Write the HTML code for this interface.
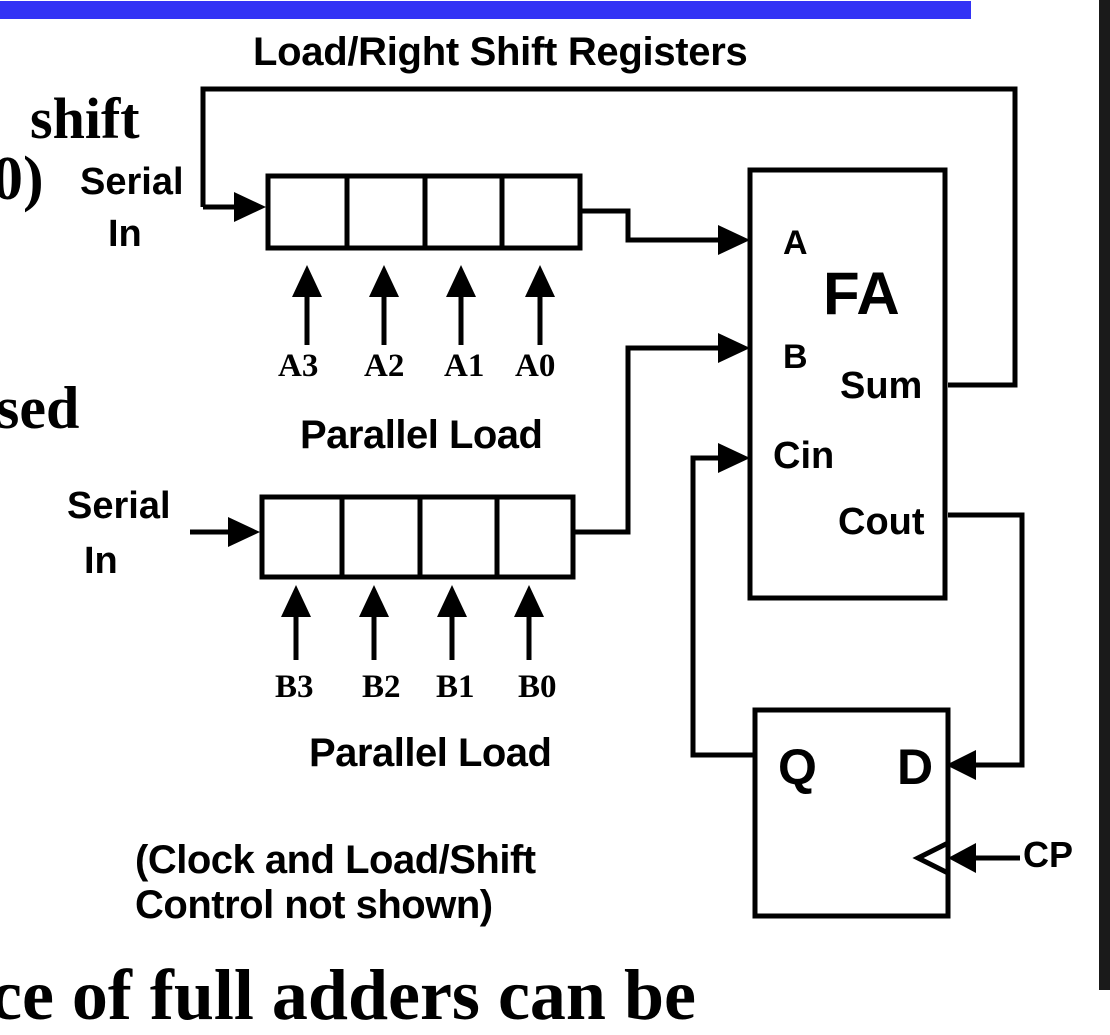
<!DOCTYPE html>
<html><head><style>
body{margin:0;width:1110px;height:990px;overflow:hidden;background:#fff;position:relative}
.s{position:absolute;font-family:"Liberation Sans",sans-serif;font-weight:bold;color:#000;white-space:nowrap;line-height:1}
.r{position:absolute;font-family:"Liberation Serif",serif;font-weight:bold;color:#000;white-space:nowrap;line-height:1}
</style></head><body>
<div style="position:absolute;left:0;top:1px;width:971px;height:18px;background:#3333f5"></div>
<div style="position:absolute;left:1099px;top:0;width:11px;height:990px;background:#1a1a1a"></div>
<svg width="1110" height="990" style="position:absolute;left:0;top:0">
<g stroke="#000" stroke-width="5" fill="none" stroke-linejoin="miter">
<polyline points="203,207 203,89 1015,89 1015,385 948,385"/>
<line x1="203" y1="207" x2="240" y2="207"/>
<rect x="268" y="176" width="312" height="72"/>
<line x1="347" y1="176" x2="347" y2="248"/><line x1="425" y1="176" x2="425" y2="248"/><line x1="502" y1="176" x2="502" y2="248"/>
<polyline points="580,211 628,211 628,240 725,240"/>
<rect x="750" y="170" width="195" height="428"/>
<rect x="262" y="497" width="311" height="80"/>
<line x1="342" y1="497" x2="342" y2="577"/><line x1="420" y1="497" x2="420" y2="577"/><line x1="497" y1="497" x2="497" y2="577"/>
<line x1="190" y1="532" x2="235" y2="532"/>
<polyline points="573,532 628,532 628,348 725,348"/>
<polyline points="755,755 693,755 693,458 725,458"/>
<polyline points="948,515 1022,515 1022,765 970,765"/>
<rect x="755" y="710" width="193" height="206"/>
<polyline points="948,843 918,858 948,873"/>
<line x1="1020" y1="858" x2="970" y2="858"/>
<line x1="307" y1="290" x2="307" y2="345"/><line x1="384" y1="290" x2="384" y2="345"/><line x1="461" y1="290" x2="461" y2="345"/><line x1="540" y1="290" x2="540" y2="345"/>
<line x1="296" y1="610" x2="296" y2="660"/><line x1="374" y1="610" x2="374" y2="660"/><line x1="452" y1="610" x2="452" y2="660"/><line x1="529" y1="610" x2="529" y2="660"/>
</g>
<g fill="#000">
<polygon points="234,192 266,207 234,222"/>
<polygon points="228,517 260,532 228,547"/>
<polygon points="718,225 750,240 718,255"/>
<polygon points="718,333 750,348 718,363"/>
<polygon points="718,443 750,458 718,473"/>
<polygon points="976,750 946,765 976,780"/>
<polygon points="976,843 948,858 976,873"/>
<polygon points="292,297 307,265 322,297"/><polygon points="369,297 384,265 399,297"/><polygon points="446,297 461,265 476,297"/><polygon points="525,297 540,265 555,297"/>
<polygon points="281,617 296,585 311,617"/><polygon points="359,617 374,585 389,617"/><polygon points="437,617 452,585 467,617"/><polygon points="514,617 529,585 544,617"/>
</g>
</svg>
<div class="s" style="left:253px;top:32px;font-size:40px;letter-spacing:-0.3px">Load/Right Shift Registers</div>
<div class="r" style="left:30px;top:90px;font-size:58px">shift</div>
<div class="r" style="left:-8px;top:148px;font-size:62px">0)</div>
<div class="r" style="left:-4px;top:378px;font-size:60px">sed</div>
<div class="r" style="left:-10px;top:959px;font-size:72px">ce of full adders can be</div>
<div class="s" style="left:80px;top:163px;font-size:38px">Serial</div>
<div class="s" style="left:108px;top:215px;font-size:38px">In</div>
<div class="s" style="left:67px;top:487px;font-size:38px">Serial</div>
<div class="s" style="left:84px;top:542px;font-size:38px">In</div>
<div class="r" style="left:278px;top:350px;font-size:33px">A3</div>
<div class="r" style="left:364px;top:350px;font-size:33px">A2</div>
<div class="r" style="left:444px;top:350px;font-size:33px">A1</div>
<div class="r" style="left:515px;top:350px;font-size:33px">A0</div>
<div class="r" style="left:275px;top:671px;font-size:33px">B3</div>
<div class="r" style="left:362px;top:671px;font-size:33px">B2</div>
<div class="r" style="left:436px;top:671px;font-size:33px">B1</div>
<div class="r" style="left:518px;top:671px;font-size:33px">B0</div>
<div class="s" style="left:300px;top:415px;font-size:40px;letter-spacing:-0.5px">Parallel Load</div>
<div class="s" style="left:309px;top:733px;font-size:40px;letter-spacing:-0.5px">Parallel Load</div>
<div class="s" style="left:783px;top:226px;font-size:34px">A</div>
<div class="s" style="left:823px;top:264px;font-size:60px">FA</div>
<div class="s" style="left:783px;top:340px;font-size:34px">B</div>
<div class="s" style="left:840px;top:367px;font-size:38px">Sum</div>
<div class="s" style="left:773px;top:437px;font-size:38px">Cin</div>
<div class="s" style="left:838px;top:503px;font-size:38px">Cout</div>
<div class="s" style="left:778px;top:742px;font-size:50px">Q</div>
<div class="s" style="left:897px;top:742px;font-size:50px">D</div>
<div class="s" style="left:1023px;top:837px;font-size:36px">CP</div>
<div class="s" style="left:135px;top:840px;font-size:40px;letter-spacing:-0.5px">(Clock and Load/Shift</div>
<div class="s" style="left:135px;top:885px;font-size:40px;letter-spacing:-0.5px">Control not shown)</div>
</body></html>
